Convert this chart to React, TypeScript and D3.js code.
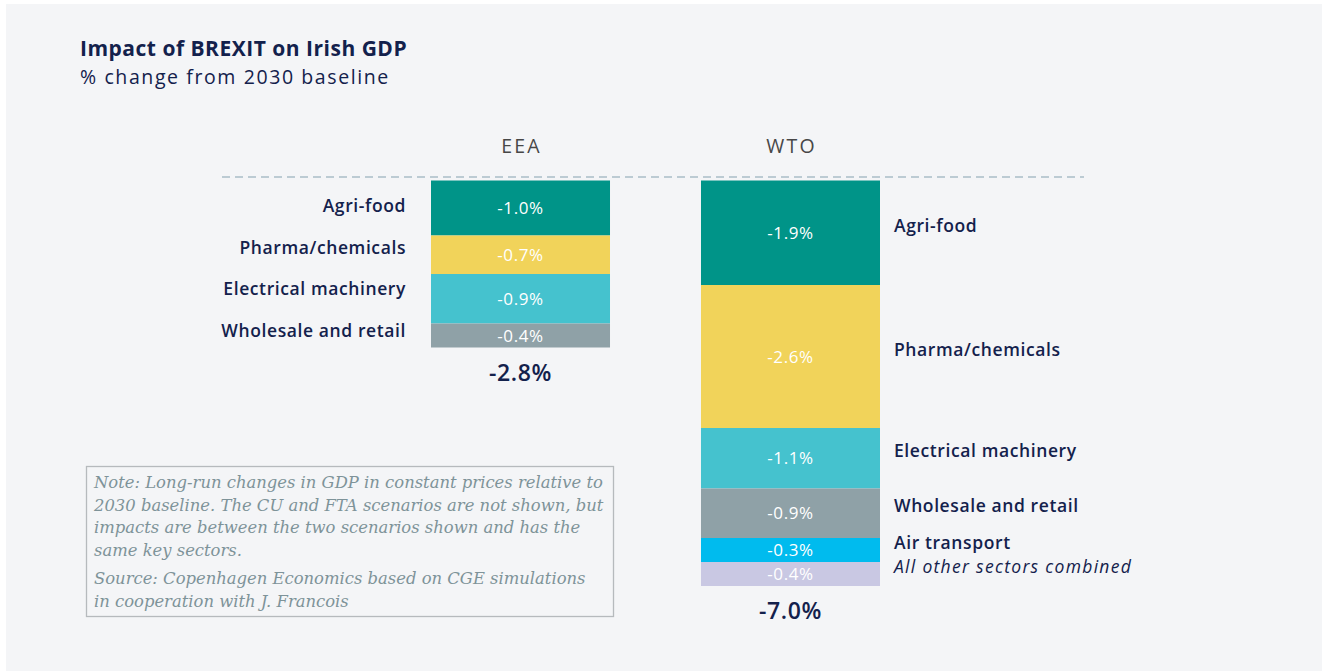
import React from "react";
import * as d3 from "d3";

const scenarios = ["EEA", "WTO"];
const eeaSectors = ["Agri-food", "Pharma/chemicals", "Electrical machinery", "Wholesale and retail"];
const eeaValues = [-1.0, -0.7, -0.9, -0.4];
const wtoSectors = ["Agri-food", "Pharma/chemicals", "Electrical machinery", "Wholesale and retail", "Air transport", "All other sectors combined"];
const wtoValues = [-1.9, -2.6, -1.1, -0.9, -0.3, -0.4];
const totals = [-2.8, -7.0];
const sectorColors: Record<string, string> = {
  "Agri-food": "#009488",
  "Pharma/chemicals": "#f1d35a",
  "Electrical machinery": "#45c2ce",
  "Wholesale and retail": "#8fa1a7",
  "Air transport": "#00bbee",
  "All other sectors combined": "#c9c8e3",
};
const noteLines = [
  "Note: Long-run changes in GDP in constant prices relative to",
  "2030 baseline. The CU and FTA scenarios are not shown, but",
  "impacts are between the two scenarios shown and has the",
  "same key sectors.",
];
const sourceLines = [
  "Source: Copenhagen Economics based on CGE simulations",
  "in cooperation with J. Francois",
];

const W = 1324;
const H = 671;
const NAVY = "#13214c";
const SANS = "'Open Sans', 'DejaVu Sans', sans-serif";
const SERIF = "'DejaVu Serif', 'Liberation Serif', serif";
const fmt = (v: number) => (v < 0 ? "-" : "") + Math.abs(v).toFixed(1) + "%";

type Seg = { sector: string; value: number; y0: number; y1: number };

function stack(sectors: string[], values: number[], top: number, h: d3.ScaleLinear<number, number>, minH: number): Seg[] {
  let y = top;
  return sectors.map((s, i) => {
    const hh = Math.max(minH, h(Math.abs(values[i])));
    const seg = { sector: s, value: values[i], y0: y, y1: y + hh };
    y += hh;
    return seg;
  });
}

export default function App() {
  const x = d3.scaleBand<string>().domain(scenarios).range([431, 880]).paddingInner(0.337);
  const h = d3.scaleLinear().domain([0, 1]).range([0, 55]);
  const top = 180.5;
  const minH = 24;
  const eea = stack(eeaSectors, eeaValues, top, h, minH);
  const wto = stack(wtoSectors, wtoValues, top, h, minH);
  const stacks = [eea, wto];
  const bw = x.bandwidth();

  return (
    <svg width={W} height={H} style={{ position: "absolute", left: 0, top: 0 }} fontFamily={SANS}>
      <rect x={0} y={0} width={W} height={H} fill="#ffffff" />
      <rect x={6} y={4} width={1316} height={H - 4} fill="#f4f5f7" />

      <text x={80} y={56} fontSize={21} fontWeight={700} letterSpacing={0.5} fill={NAVY}>Impact of BREXIT on Irish GDP</text>
      <text x={80} y={84} fontSize={19.5} letterSpacing={1.6} fill={NAVY}>% change from 2030 baseline</text>

      {scenarios.map((s) => (
        <text key={s} x={(x(s) as number) + bw / 2 + 1} y={153} textAnchor="middle" fontSize={19.5} letterSpacing={2.2} fill="#474747">{s}</text>
      ))}

      <line x1={222} x2={1084} y1={177} y2={177} stroke="#bccbd3" strokeWidth={2} strokeDasharray="8 5" />

      {stacks.map((st, si) => (
        <g key={si}>
          {st.map((seg) => (
            <g key={seg.sector}>
              <rect x={x(scenarios[si])} y={seg.y0} width={bw} height={seg.y1 - seg.y0} fill={sectorColors[seg.sector]} />
              <text x={(x(scenarios[si]) as number) + bw / 2} y={(seg.y0 + seg.y1) / 2 + 6} textAnchor="middle" fontSize={17} letterSpacing={0.6} fill="#ffffff">{fmt(seg.value)}</text>
            </g>
          ))}
          <text x={(x(scenarios[si]) as number) + bw / 2} y={st[st.length - 1].y1 + 33} textAnchor="middle" fontSize={23} fontWeight={600} letterSpacing={0.6} fill={NAVY}>{fmt(totals[si])}</text>
        </g>
      ))}

      {eea.map((seg, i) => (
        <text key={seg.sector} x={(x("EEA") as number) - 25} y={top + 31.5 + i * 41.5} textAnchor="end" fontSize={17.5} fontWeight={600} letterSpacing={0.6} fill={NAVY}>{seg.sector}</text>
      ))}
      {wto.map((seg, i) => {
        const last = i === wto.length - 1;
        return (
          <text key={seg.sector} x={(x("WTO") as number) + bw + 14} y={(seg.y0 + seg.y1) / 2 - 1} fontSize={17.5} fontWeight={last ? 400 : 600} fontStyle={last ? "italic" : "normal"} letterSpacing={last ? 1.3 : 0.6} fill={NAVY}>{seg.sector}</text>
        );
      })}

      <rect x={86.5} y={466.5} width={527} height={150} fill="none" stroke="#b6babd" strokeWidth={1.3} />
      {noteLines.map((l, i) => (
        <text key={l} x={94} y={488 + i * 22.5} fontFamily={SERIF} fontStyle="italic" fontSize={16.4} fill="#7e9399">{l}</text>
      ))}
      {sourceLines.map((l, i) => (
        <text key={l} x={94} y={584 + i * 23} fontFamily={SERIF} fontStyle="italic" fontSize={16.4} fill="#7e9399">{l}</text>
      ))}
    </svg>
  );
}
